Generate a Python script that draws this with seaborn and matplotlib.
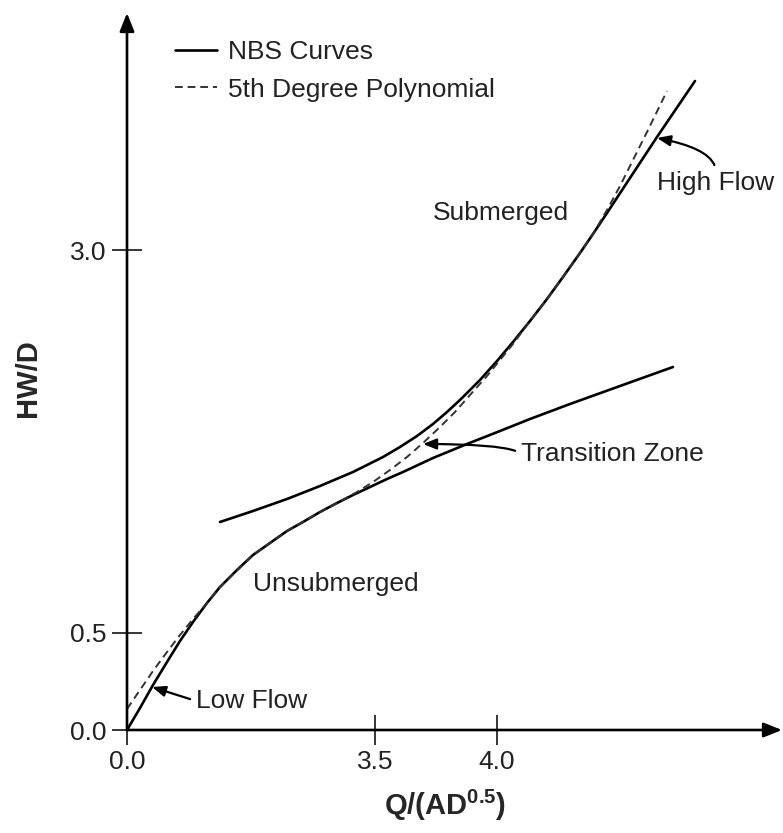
import matplotlib
matplotlib.use("Agg")
import matplotlib.pyplot as plt
import seaborn as sns
import pandas as pd

sns.set_style("white")
plt.rcParams["font.family"] = ["Liberation Sans", "DejaVu Sans"]
plt.rcParams["mathtext.fontset"] = "custom"
plt.rcParams["mathtext.rm"] = "Liberation Sans"
plt.rcParams["mathtext.bf"] = "Liberation Sans:bold"

# Schematic inlet-control curves (sketch units, origin at the axes corner)
unsub_x = [0, 13, 26, 40, 53, 66, 80, 93, 110, 126, 143, 160, 176, 193, 210,
           226, 243, 260, 276, 306, 340, 373, 403, 443, 493, 546]
unsub_y = [0, 22, 45, 68, 89, 108, 127, 143, 160, 175, 187, 199, 208, 218, 227,
           235, 243, 251, 258, 272, 286, 299, 311, 326, 344, 363]

sub_x = [93, 126, 160, 193, 226, 256, 273, 290, 306, 320, 333, 353, 370, 386,
         403, 420, 436, 453, 466, 480, 503, 530, 568]
sub_y = [208, 219, 231, 244, 258, 273, 283, 294, 306, 318, 330, 350, 369, 388,
         409, 431, 453, 477, 496, 517, 552, 593, 649]

poly_x = [0, 13, 26, 40, 53, 66, 80, 93, 126, 160, 193, 210, 230, 246, 263,
          280, 296, 313, 328, 343, 360, 386, 403, 420, 436, 453, 466, 480,
          493, 506, 520, 540]
poly_y = [21, 40, 59, 78, 95, 111, 127, 143, 175, 199, 218, 227, 238, 248, 260,
          273, 287, 303, 318, 335, 354, 386, 409, 431, 453, 477, 496, 520,
          544, 570, 598, 639]

x_ticks = [0, 248, 370]
x_tick_labels = ["0.0", "3.5", "4.0"]
y_ticks = [0, 97, 480]
y_tick_labels = ["0.0", "0.5", "3.0"]

unsub = pd.DataFrame({"x": unsub_x, "y": unsub_y})
sub = pd.DataFrame({"x": sub_x, "y": sub_y})
poly = pd.DataFrame({"x": poly_x, "y": poly_y})

fig = plt.figure(figsize=(7.83, 8.33), dpi=100)
ax = fig.add_axes([0, 0, 1, 1])
ax.set_xlim(-127, 656)
ax.set_ylim(-103, 730)

line_kw = dict(sort=False, estimator=None, solid_joinstyle="round",
               solid_capstyle="round")
sns.lineplot(data=unsub, x="x", y="y", ax=ax, color="black", lw=1.9,
             label="NBS Curves", **line_kw)
sns.lineplot(data=sub, x="x", y="y", ax=ax, color="black", lw=1.9,
             label="_nolegend_", **line_kw)
sns.lineplot(data=poly, x="x", y="y", ax=ax, color="#333333", lw=1.4,
             label="5th Degree Polynomial", sort=False, estimator=None)
ax.lines[-1].set_dashes([4, 2.5])

# axes drawn as arrows through the origin
for s in ax.spines.values():
    s.set_visible(False)
ax.spines["left"].set_position(("data", 0))
ax.spines["bottom"].set_position(("data", 0))
axis_arrow = dict(arrowstyle="-|>,head_length=0.55,head_width=0.22",
                  lw=1.9, color="black", mutation_scale=20,
                  shrinkA=0, shrinkB=0)
ax.annotate("", xy=(655, 0), xytext=(0, 0), arrowprops=axis_arrow)
ax.annotate("", xy=(0, 717), xytext=(0, 0), arrowprops=axis_arrow)

ax.set_xticks(x_ticks, x_tick_labels)
ax.set_yticks(y_ticks, y_tick_labels)
ax.tick_params(axis="both", direction="inout", length=21, width=1.1,
               color="black", labelsize=19, labelcolor="#222222",
               bottom=True, left=True, pad=4)
ax.grid(False)

ax.set_xlabel(r"Q/(AD$^{\mathbf{0.5}}$)", fontsize=21, fontweight="bold",
              va="center")
ax.xaxis.set_label_coords(445 / 783, 1 - 805 / 833)
ax.set_ylabel("HW/D", fontsize=21, fontweight="bold", va="center")
ax.yaxis.set_label_coords(28 / 783, 1 - 378 / 833)

txt = dict(fontsize=19, color="#222222", va="center", ha="left")
ax.text(306, 517, "Submerged", **txt)
ax.text(126, 146, "Unsubmerged", **txt)

pointer = dict(arrowstyle="-|>,head_length=0.5,head_width=0.2", lw=1.6,
               color="black", mutation_scale=16, shrinkA=2, shrinkB=0)
ax.annotate("High Flow", xy=(530, 592), xytext=(530, 547),
            arrowprops=dict(pointer, relpos=(0.5, 1.0),
                            connectionstyle="angle3,angleA=90,angleB=-11"),
            **txt)
ax.annotate("Transition Zone", xy=(296, 286), xytext=(394, 276),
            arrowprops=dict(pointer, relpos=(0.0, 0.5),
                            connectionstyle="angle3,angleA=135,angleB=0"),
            **txt)
ax.annotate("Low Flow", xy=(25, 43), xytext=(69, 29),
            arrowprops=dict(pointer, relpos=(0.0, 0.5)), **txt)

leg = ax.legend(loc="upper left", bbox_to_anchor=(175 / 783, 1 - 40 / 833),
                bbox_transform=fig.transFigure, frameon=False, fontsize=19,
                handlelength=1.6, handletextpad=0.42, labelspacing=0.52,
                borderpad=0, borderaxespad=0)
for t in leg.get_texts():
    t.set_color("#222222")

fig.savefig("out.png", dpi=100)
